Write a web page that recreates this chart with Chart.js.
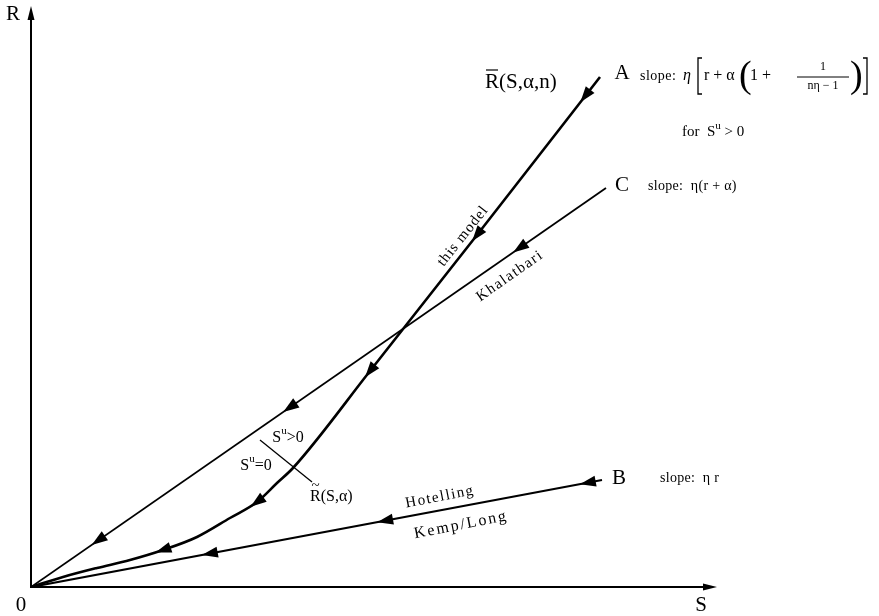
<!DOCTYPE html>
<html>
<head>
<meta charset="utf-8">
<script src="https://cdn.jsdelivr.net/npm/chart.js@4.4.1/dist/chart.umd.min.js"></script>
<style>
  html, body { margin: 0; padding: 0; background: #fff; }
  canvas { display: block; }
</style>
</head>
<body>
<canvas id="chart" width="879" height="616"></canvas>
<script>
// curve A (this model), S and R
const sA = [0, 32, 66, 99, 132, 166, 199, 226, 246, 262, 339, 446, 569];
const rA = [0, 10, 19, 27, 37, 50, 69, 85, 104, 119, 216, 352, 510];
// line C (Khalatbari)
const sC = [0, 575];
const rC = [0, 399];
// line B (Hotelling, Kemp/Long)
const sB = [0, 571];
const rB = [0, 107];
// short stroke marking R~(S, alpha)
const sTilde = [229, 281];
const rTilde = [147, 105];
// arrowheads, as fractional point index along each line
const arrowsA = [4, 7, 10, 11, 11.88];
const arrowsC = [0.117, 0.45, 0.85];
const arrowsB = [0.313, 0.62, 0.975];

const SERIF = '"Liberation Serif", "DejaVu Serif", serif';
const toPts = (s, r) => s.map((v, i) => ({ x: v, y: r[i] }));

function arrowHead(ctx, x, y, dx, dy, len, half) {
  const n = Math.hypot(dx, dy) || 1;
  dx /= n; dy /= n;
  const tx = x + dx * len / 2, ty = y + dy * len / 2;
  const bx = x - dx * len / 2, by = y - dy * len / 2;
  ctx.beginPath();
  ctx.moveTo(tx, ty);
  ctx.lineTo(bx - dy * half, by + dx * half);
  ctx.lineTo(bx + dy * half, by - dx * half);
  ctx.closePath();
  ctx.fill();
}

// text made of runs, e.g. S with superscript u
function runs(ctx, parts, x, y, size, align) {
  let w = 0;
  parts.forEach(p => {
    ctx.font = (p.italic ? 'italic ' : '') + Math.round(p.sup ? size * 0.7 : size) + 'px ' + SERIF;
    p.w = ctx.measureText(p.t).width;
    w += p.w;
  });
  let cx = align === 'center' ? x - w / 2 : x;
  parts.forEach(p => {
    ctx.font = (p.italic ? 'italic ' : '') + Math.round(p.sup ? size * 0.7 : size) + 'px ' + SERIF;
    ctx.textAlign = 'left';
    ctx.fillText(p.t, cx, p.sup ? y - size * 0.4 : y);
    cx += p.w;
  });
}

const diagram = {
  id: 'diagram',
  afterDatasetsDraw(chart) {
    const { ctx, chartArea: a, scales: { x, y } } = chart;
    const px = v => x.getPixelForValue(v);
    const py = v => y.getPixelForValue(v);
    ctx.save();
    ctx.fillStyle = '#000';
    ctx.strokeStyle = '#000';

    // axes
    ctx.lineWidth = 2;
    ctx.beginPath();
    ctx.moveTo(a.left, a.top + 8);
    ctx.lineTo(a.left, a.bottom);
    ctx.lineTo(a.right - 8, a.bottom);
    ctx.stroke();
    arrowHead(ctx, a.left, a.top + 7, 0, -1, 14, 3.5);
    arrowHead(ctx, a.right - 7, a.bottom, 1, 0, 14, 3.5);

    // arrowheads along the lines, pointing back to the origin
    [[0, arrowsA], [1, arrowsC], [2, arrowsB]].forEach(([di, list]) => {
      const pts = chart.getDatasetMeta(di).data;
      list.forEach(f => {
        const i = Math.floor(f), t = f - i;
        let x0, y0, dx, dy;
        if (t === 0) {
          const p = pts[i], a0 = pts[i - 1], b0 = pts[i + 1];
          x0 = p.x; y0 = p.y; dx = a0.x - b0.x; dy = a0.y - b0.y;
        } else {
          const p = pts[i], q = pts[i + 1];
          x0 = p.x + (q.x - p.x) * t; y0 = p.y + (q.y - p.y) * t;
          dx = p.x - q.x; dy = p.y - q.y;
        }
        arrowHead(ctx, x0, y0, dx, dy, 16, 5.5);
      });
    });

    ctx.textBaseline = 'middle';
    const T = (s, sx, sr, size, opt = {}) => {
      ctx.save();
      ctx.translate(px(sx), py(sr));
      if (opt.rot) ctx.rotate(opt.rot * Math.PI / 180);
      ctx.font = (opt.italic ? 'italic ' : '') + size + 'px ' + SERIF;
      ctx.letterSpacing = (opt.sp || 0) + 'px';
      ctx.textAlign = opt.align || 'center';
      ctx.fillText(s, 0, 0);
      ctx.restore();
    };

    // axis labels
    T('R', -18, 573, 21);
    T('0', -10, -18, 21);
    T('S', 670, -18, 21);

    // end labels
    T('A', 591, 514, 21);
    T('C', 591, 402, 21);
    T('B', 588, 109, 21);

    // R-bar(S, alpha, n)
    T('R(S,α,n)', 454, 505, 21, { align: 'left' });
    ctx.lineWidth = 1.2;
    ctx.beginPath();
    ctx.moveTo(px(455), py(505) - 12);
    ctx.lineTo(px(467), py(505) - 12);
    ctx.stroke();

    // slope texts
    T('slope:', 609, 511, 14, { align: 'left', sp: 0.5 });
    T('slope:  η(r + α)', 617, 401, 14, { align: 'left', sp: 0.3 });
    T('slope:  η r', 629, 109, 14, { align: 'left', sp: 0.3 });
    runs(ctx, [{ t: 'for  S' }, { t: 'u', sup: true }, { t: ' > 0' }], px(651), py(455), 15, 'left');

    // formula eta[ r + alpha (1 + 1/(n eta - 1)) ]
    const fx = px(652), fy = py(511);
    ctx.textAlign = 'left';
    ctx.font = 'italic 16px ' + SERIF;
    ctx.fillText('η', fx, fy);
    ctx.lineWidth = 1.3;
    ctx.beginPath();
    ctx.moveTo(fx + 19, fy - 18); ctx.lineTo(fx + 15, fy - 18);
    ctx.lineTo(fx + 15, fy + 18); ctx.lineTo(fx + 19, fy + 18);
    ctx.moveTo(fx + 180, fy - 18); ctx.lineTo(fx + 184, fy - 18);
    ctx.lineTo(fx + 184, fy + 18); ctx.lineTo(fx + 180, fy + 18);
    ctx.stroke();
    ctx.font = '16px ' + SERIF;
    ctx.fillText('r + α', fx + 21, fy);
    ctx.font = '38px ' + SERIF;
    ctx.fillText('(', fx + 56, fy + 1);
    ctx.fillText(')', fx + 167, fy + 1);
    ctx.font = '16px ' + SERIF;
    ctx.fillText('1 +', fx + 67, fy);
    ctx.textAlign = 'center';
    ctx.font = '12px ' + SERIF;
    ctx.fillText('1', fx + 140, fy - 9);
    ctx.fillText('nη − 1', fx + 140, fy + 10);
    ctx.lineWidth = 1;
    ctx.beginPath();
    ctx.moveTo(fx + 114, fy + 1); ctx.lineTo(fx + 166, fy + 1);
    ctx.stroke();

    // labels along the lines
    T('this model', 432, 351, 15, { rot: -51.5, sp: 1 });
    T('Khalatbari', 479, 311, 15, { rot: -35, sp: 1.5 });
    T('Hotelling', 409, 90, 15, { rot: -11, sp: 1.5 });
    T('Kemp/Long', 430, 62, 16, { rot: -11, sp: 2 });

    // regime labels near R~
    runs(ctx, [{ t: 'S' }, { t: 'u', sup: true }, { t: '>0' }], px(257), py(149), 16, 'center');
    runs(ctx, [{ t: 'S' }, { t: 'u', sup: true }, { t: '=0' }], px(225), py(121), 16, 'center');
    T('R(S,α)', 279, 90, 16, { align: 'left' });
    ctx.font = '15px ' + SERIF;
    ctx.textAlign = 'center';
    ctx.fillText('~', px(279) + 5.5, py(90) - 11);

    ctx.restore();
  }
};

new Chart(document.getElementById('chart'), {
  type: 'scatter',
  data: {
    datasets: [
      { data: toPts(sA, rA), showLine: true, borderColor: '#000', borderWidth: 2.6, pointRadius: 0, cubicInterpolationMode: 'monotone' },
      { data: toPts(sC, rC), showLine: true, borderColor: '#000', borderWidth: 1.8, pointRadius: 0 },
      { data: toPts(sB, rB), showLine: true, borderColor: '#000', borderWidth: 2.2, pointRadius: 0 },
      { data: toPts(sTilde, rTilde), showLine: true, borderColor: '#000', borderWidth: 1.3, pointRadius: 0 }
    ]
  },
  options: {
    responsive: false,
    animation: false,
    devicePixelRatio: 1,
    layout: { padding: { left: 31, top: 6, right: 162, bottom: 29 } },
    plugins: { legend: { display: false }, tooltip: { enabled: false } },
    scales: {
      x: { type: 'linear', min: 0, max: 686, display: false },
      y: { type: 'linear', min: 0, max: 581, display: false }
    }
  },
  plugins: [diagram]
});
</script>
</body>
</html>
